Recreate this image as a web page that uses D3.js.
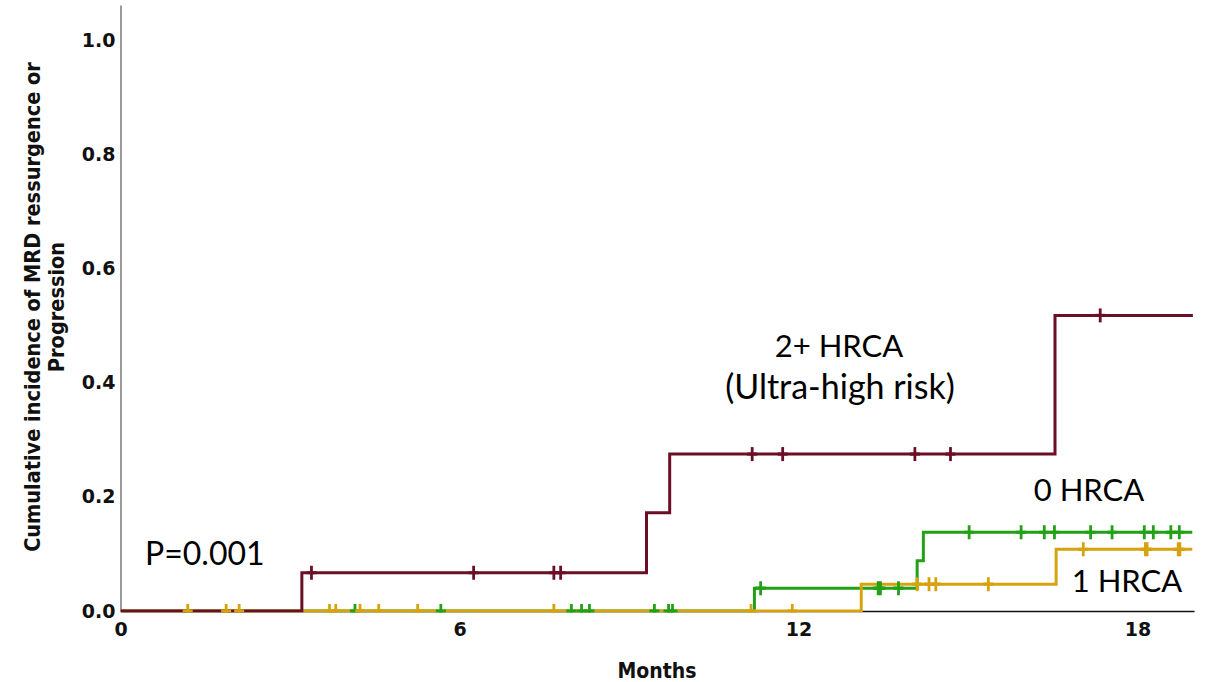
<!DOCTYPE html>
<html>
<head>
<meta charset="utf-8">
<script src="https://cdn.jsdelivr.net/npm/d3@7"></script>
<style>
  html, body { margin: 0; padding: 0; background: #fff; }
  svg { display: block; }
</style>
</head>
<body>
<svg id="chart" width="1205" height="682"></svg>
<script>
// Cumulative incidence (step) curves by number of high-risk chromosomal abnormalities
const groups = ["0 HRCA", "1 HRCA", "2+ HRCA"];
const groupColors = ["#22a016", "#d6a30e", "#6c0e26"];

// event times (months) and cumulative incidence after each event
const months0 = [0, 11.22, 14.10, 14.21];
const cif0 = [0, 0.040, 0.088, 0.138];
const censor0 = [4.15, 5.67, 7.98, 8.16, 8.30, 9.45, 9.70, 9.77, 11.33, 13.41, 13.45, 13.77,
                 15.02, 15.94, 16.35, 16.53, 17.17, 17.55, 18.12, 18.28, 18.59, 18.74];
const follow0 = 18.97;

const months1 = [0, 13.11, 16.56];
const cif1 = [0, 0.047, 0.108];
const censor1 = [1.19, 1.87, 2.10, 3.70, 3.81, 4.24, 4.57, 5.26, 7.67, 11.16, 11.89, 14.10,
                 14.31, 14.43, 15.36, 17.04, 18.14, 18.17, 18.72, 18.75];
const follow1 = 18.97;

const months2 = [0, 3.21, 9.31, 9.72, 16.54];
const cif2 = [0, 0.067, 0.172, 0.275, 0.518];
const censor2 = [3.38, 6.25, 7.67, 7.79, 11.18, 11.72, 14.06, 14.69, 17.34];
const follow2 = 18.98;

const xTicks = [0, 6, 12, 18];
const yTicks = [0, 0.2, 0.4, 0.6, 0.8, 1.0];

const svg = d3.select("#chart");
const x = d3.scaleLinear().domain([0, 19]).range([120.5, 1194]);
const y = d3.scaleLinear().domain([0, 1.062]).range([611, 5]);

// axes: plain lines with labels, no tick marks
const yAxis = svg.append("g").attr("transform", `translate(${x(0)},0)`)
  .call(d3.axisLeft(y).tickValues(yTicks).tickFormat(d3.format(".1f")).tickSize(0).tickPadding(5));
yAxis.select(".domain").attr("stroke", "#555").attr("stroke-width", 1.2);
yAxis.selectAll("text")
  .attr("font-family", "DejaVu Sans, Verdana, sans-serif")
  .attr("font-weight", "bold").attr("font-size", 19).attr("fill", "#111");

const xAxis = svg.append("g").attr("transform", `translate(0,${y(0)})`)
  .call(d3.axisBottom(x).tickValues(xTicks).tickFormat(d3.format("d")).tickSize(0).tickPadding(12));
xAxis.select(".domain").attr("stroke", "#111").attr("stroke-width", 1.5);
xAxis.selectAll("text")
  .attr("font-family", "DejaVu Sans, Verdana, sans-serif")
  .attr("font-weight", "bold").attr("font-size", 19).attr("fill", "#111");

// axis titles
svg.append("text")
  .attr("x", 657).attr("y", 678).attr("text-anchor", "middle")
  .attr("font-family", "DejaVu Sans Condensed, DejaVu Sans, sans-serif")
  .attr("font-stretch", "condensed")
  .attr("font-weight", "bold").attr("font-size", 21).attr("fill", "#111")
  .text("Months");

const yTitle = svg.append("text")
  .attr("transform", "translate(0,307) rotate(-90)")
  .attr("text-anchor", "middle")
  .attr("font-family", "Liberation Sans Narrow, DejaVu Sans Condensed, sans-serif")
  .attr("font-stretch", "condensed")
  .attr("font-weight", "bold").attr("font-size", 21.5).attr("fill", "#111");
yTitle.append("tspan").attr("x", 0).attr("y", 40).text("Cumulative incidence of MRD ressurgence or");
yTitle.append("tspan").attr("x", 0).attr("y", 64).text("Progression");

// clip so baseline censor ticks only rise above the axis
svg.append("clipPath").attr("id", "plotClip")
  .append("rect").attr("x", x(0)).attr("y", 0).attr("width", 1205).attr("height", y(0) + 1.5);

const series = [
  { months: months0, cif: cif0, censor: censor0, follow: follow0, color: groupColors[0] },
  { months: months1, cif: cif1, censor: censor1, follow: follow1, color: groupColors[1] },
  { months: months2, cif: cif2, censor: censor2, follow: follow2, color: groupColors[2] }
];

const stepLine = d3.line().x(d => x(d[0])).y(d => y(d[1])).curve(d3.curveStepAfter);
const plot = svg.append("g").attr("clip-path", "url(#plotClip)");

series.forEach(s => {
  const pts = s.months.map((m, i) => [m, s.cif[i]]);
  pts.push([s.follow, s.cif[s.cif.length - 1]]);
  plot.append("path").datum(pts)
    .attr("fill", "none").attr("stroke", s.color).attr("stroke-width", 3)
    .attr("d", stepLine);
});

const valueAt = (s, t) => s.cif[d3.bisectRight(s.months, t) - 1];

series.forEach(s => {
  const g = plot.append("g").attr("stroke", s.color).attr("stroke-width", 2.8);
  s.censor.forEach(t => {
    const cx = x(t), cy = y(valueAt(s, t));
    g.append("line").attr("x1", cx).attr("x2", cx).attr("y1", cy - 7).attr("y2", cy + 7);
    g.append("line").attr("x1", cx - 5).attr("x2", cx + 5).attr("y1", cy).attr("y2", cy).attr("stroke-width", 3.2);
  });
});

// annotations
const note = (txt, cx, cy, anchor, size) => svg.append("text")
  .attr("x", cx).attr("y", cy).attr("text-anchor", anchor || "middle")
  .attr("font-family", "Lato, Open Sans, sans-serif").attr("font-size", size || 31).attr("fill", "#000")
  .text(txt);
note("P=0.001", 145, 565, "start", 32);
note("2+ HRCA", 839, 357, "middle", 31);
note("(Ultra-high risk)", 840, 399, "middle", 34);
note("0 HRCA", 1089, 501, "middle", 31);
note("1 HRCA", 1127, 592, "middle", 31);
</script>
</body>
</html>
